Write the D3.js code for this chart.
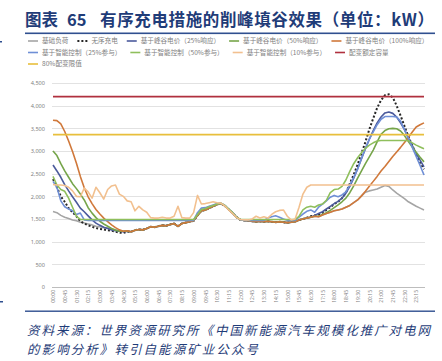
<!DOCTYPE html>
<html>
<head>
<meta charset="utf-8">
<script src="https://cdn.jsdelivr.net/npm/d3@7/dist/d3.min.js"></script>
<style>
body { margin: 0; background: #fff; }
svg { display: block; }
</style>
</head>
<body>
<div id="chart"></div>
<script>
// x tick labels (every 45 min), data is every 15 min (96 points)
var tickLabels = ["00:00","00:45","01:30","02:15","03:00","03:45","04:30","05:15","06:00","06:45",
    "07:30","08:15","09:00","09:45","10:30","11:15","12:00","12:45","13:30","14:15","15:00","15:45",
    "16:30","17:15","18:00","18:45","19:30","20:15","21:00","21:45","22:30","23:15"];
var yTicks = [0, 500, 1000, 1500, 2000, 2500, 3000, 3500, 4000, 4500];

var baseLoad = [1665,1640,1580,1540,1510,1480,1460,1430,1410,1390,
    1370,1340,1330,1310,1300,1280,1260,1240,1230,1240,
    1220,1250,1270,1260,1290,1330,1320,1340,1360,1350,
    1380,1400,1340,1400,1420,1440,1460,1580,1680,1700,
    1740,1780,1820,1840,1790,1710,1630,1540,1480,1470,
    1460,1450,1440,1450,1440,1450,1440,1430,1440,1430,
    1420,1430,1440,1480,1500,1520,1540,1560,1550,1590,
    1620,1650,1680,1700,1720,1760,1800,1860,1920,2010,
    2090,2120,2140,2160,2200,2240,2220,2140,2070,2010,
    1950,1880,1830,1780,1740,1700];
var disordered = [2380,2200,2000,1880,1740,1650,1560,1450,1400,1360,
    1330,1300,1280,1270,1250,1240,1220,1200,1190,1220,
    1220,1250,1270,1260,1290,1330,1320,1340,1360,1350,
    1380,1400,1340,1400,1420,1440,1460,1580,1680,1700,
    1740,1780,1820,1840,1790,1710,1630,1540,1480,1470,
    1460,1450,1440,1450,1440,1450,1440,1430,1440,1430,
    1420,1430,1460,1480,1500,1530,1560,1580,1600,1640,
    1700,1760,1830,1880,1960,2080,2280,2480,2700,2950,
    3200,3480,3720,3950,4120,4230,4250,4180,4000,3780,
    3550,3320,3120,2920,2750,2600];
var tou25 = [2690,2560,2420,2260,2120,1990,1870,1740,1660,1570,
    1480,1410,1360,1320,1290,1260,1240,1230,1220,1230,
    1220,1250,1270,1260,1290,1330,1320,1340,1360,1350,
    1380,1400,1340,1400,1420,1440,1460,1580,1680,1700,
    1740,1780,1820,1840,1790,1710,1630,1540,1480,1470,
    1460,1450,1440,1450,1440,1450,1440,1430,1440,1430,
    1420,1430,1440,1480,1500,1520,1540,1580,1620,1660,
    1720,1780,1840,1890,1960,2070,2220,2400,2610,2830,
    3050,3260,3450,3620,3750,3840,3860,3830,3750,3620,
    3470,3290,3120,2950,2800,2650];
var tou50 = [3000,2900,2720,2560,2420,2280,2170,2050,1920,1750,
    1630,1530,1450,1390,1340,1290,1250,1230,1230,1230,
    1220,1250,1270,1260,1290,1330,1320,1340,1360,1350,
    1380,1400,1340,1400,1420,1440,1460,1580,1680,1700,
    1740,1780,1820,1840,1790,1710,1630,1540,1480,1470,
    1460,1450,1440,1450,1440,1450,1440,1430,1440,1430,
    1420,1430,1440,1480,1500,1520,1540,1560,1560,1600,
    1640,1690,1750,1810,1880,1960,2080,2230,2400,2560,
    2720,2870,3020,3200,3370,3450,3490,3500,3490,3440,
    3340,3210,3090,2970,2860,2760];
var tou100 = [3680,3670,3600,3430,3220,2990,2730,2440,2190,1990,
    1840,1710,1610,1520,1440,1370,1310,1260,1230,1240,
    1220,1250,1270,1260,1290,1330,1320,1340,1360,1350,
    1380,1400,1340,1400,1420,1440,1460,1580,1680,1700,
    1740,1780,1820,1840,1790,1710,1630,1540,1480,1470,
    1460,1450,1440,1450,1440,1450,1440,1430,1440,1430,
    1420,1430,1440,1480,1500,1520,1540,1560,1550,1590,
    1620,1650,1680,1700,1720,1760,1800,1860,1920,2010,
    2110,2220,2330,2440,2560,2660,2770,2880,2980,3080,
    3190,3300,3420,3530,3580,3620];
var smart25 = [2330,2200,1900,1770,1720,1680,1600,1630,1480,1470,
    1470,1470,1470,1470,1470,1470,1470,1470,1470,1470,
    1470,1470,1470,1470,1470,1470,1470,1470,1470,1470,
    1470,1470,1470,1470,1470,1470,1470,1640,1740,1750,
    1780,1810,1840,1850,1800,1720,1640,1540,1480,1470,
    1470,1470,1470,1470,1470,1520,1550,1570,1540,1500,
    1470,1470,1470,1540,1610,1670,1700,1650,1760,1830,
    1900,1980,2020,1990,2030,2100,2250,2420,2600,2840,
    3060,3260,3420,3580,3700,3760,3760,3760,3750,3660,
    3470,3280,3080,2880,2680,2470];
var smart50 = [2440,2250,2150,2110,1960,1760,1560,1490,1490,1490,
    1490,1490,1490,1490,1490,1490,1490,1490,1490,1490,
    1490,1490,1490,1490,1490,1490,1490,1490,1490,1490,
    1490,1490,1490,1490,1490,1490,1490,1600,1710,1730,
    1770,1800,1830,1850,1800,1720,1640,1540,1490,1490,
    1490,1490,1490,1490,1490,1490,1490,1490,1490,1490,
    1490,1490,1490,1560,1700,1760,1780,1760,1810,1830,
    1910,2080,2150,2160,2220,2360,2550,2720,2850,2960,
    3060,3130,3180,3220,3230,3230,3230,3230,3230,3230,
    3230,3230,3180,3130,3090,3050];
var smart10 = [2260,2250,2250,2240,2200,2120,2000,1990,2180,2100,
    1960,2200,2080,1940,2150,2230,2250,2050,2000,1900,
    1880,1680,1780,1700,1650,1530,1520,1520,1540,1520,
    1520,1560,1780,1530,1520,1520,1640,2020,1830,1840,
    1860,1880,1860,1850,1790,1700,1620,1530,1490,1480,
    1480,1500,1560,1520,1550,1520,1600,1660,1690,1700,
    1560,1480,1500,1760,2050,2200,2250,2250,2250,2250,
    2250,2250,2250,2250,2250,2250,2250,2250,2250,2250,
    2250,2250,2250,2250,2250,2250,2250,2250,2250,2250,
    2250,2250,2250,2250,2250,2250];
var ratedCap = 4200;
var limit80 = 3360;

var seriesNames = ["基础负荷", "无序充电", "基于峰谷电价（25%响应）", "基于峰谷电价（50%响应）",
    "基于峰谷电价（100%响应）", "基于智能控制（25%参与）", "基于智能控制（50%参与）",
    "基于智能控制（10%参与）", "配变额定容量", "80%配变限值"];
var seriesColors = ["#a5a5a5", "#262626", "#4b5a9c", "#76a54a", "#d0783a",
    "#6f8fd6", "#8fbf5c", "#f2c08f", "#b0303e", "#e8bf3c"];
var seriesData = [baseLoad, disordered, tou25, tou50, tou100, smart25, smart50, smart10];

var times = d3.range(96).map(function(i) {
    var h = Math.floor(i / 4), m = (i % 4) * 15;
    return (h < 10 ? "0" : "") + h + ":" + (m < 10 ? "0" : "") + m;
});

var svg = d3.select("#chart").append("svg").attr("width", 442).attr("height", 361);
svg.append("rect").attr("width", 442).attr("height", 361).attr("fill", "#fff");

var blue = "#1f3c78";

// title
svg.append("text").attr("x", 25).attr("y", 26).attr("font-family", "Noto Sans CJK SC")
    .attr("font-weight", 700).attr("font-size", "16.5px").attr("fill", blue).text("图表");
svg.append("text").attr("x", 67).attr("y", 26).attr("font-family", "Noto Sans CJK SC")
    .attr("font-weight", 700).attr("font-size", "16.5px").attr("fill", blue).text("65");
svg.append("text").attr("x", 100).attr("y", 26).attr("font-family", "Noto Sans CJK SC")
    .attr("font-weight", 700).attr("font-size", "16.5px").attr("fill", blue)
    .attr("textLength", 334).attr("lengthAdjust", "spacing")
    .text("有序充电措施的削峰填谷效果（单位：kW）");
svg.append("rect").attr("x", 25).attr("y", 32.5).attr("width", 410).attr("height", 1.6).attr("fill", "#2f4f8f");
svg.append("rect").attr("x", 25).attr("y", 310.5).attr("width", 410).attr("height", 1.4).attr("fill", "#2f4f8f");
// little marks at left edge
svg.append("rect").attr("x", 0).attr("y", 41).attr("width", 2).attr("height", 1.5).attr("fill", "#2f4f8f");
svg.append("rect").attr("x", 0).attr("y", 301).attr("width", 3).attr("height", 1.5).attr("fill", "#2f4f8f");

// scales
var x = d3.scalePoint().domain(times).range([53, 424]);
var y = d3.scaleLinear().domain([0, 4500]).range([287, 83]);

// grid
svg.append("g").selectAll("line").data(yTicks).enter().append("line")
    .attr("x1", 52).attr("x2", 425)
    .attr("y1", function(d) { return Math.round(y(d)) + 0.5; })
    .attr("y2", function(d) { return Math.round(y(d)) + 0.5; })
    .attr("stroke", function(d) { return d == 0 ? "#bdbdbd" : "#e2e2e2"; })
    .attr("stroke-width", function(d) { return d == 0 ? 1.2 : 1; });

var yAxis = svg.append("g").attr("transform", "translate(52,0)")
    .call(d3.axisLeft(y).tickValues(yTicks).tickFormat(d3.format(",")).tickSize(0).tickPadding(7));
yAxis.select(".domain").remove();
yAxis.selectAll("text").attr("font-family", "Noto Sans").attr("font-size", "5.6px").attr("fill", "#7f7f7f");

var xAxis = svg.append("g").attr("transform", "translate(0,287)")
    .call(d3.axisBottom(x).tickValues(tickLabels).tickSize(0));
xAxis.select(".domain").remove();
xAxis.selectAll("text")
    .attr("transform", "rotate(-90)")
    .attr("x", -3).attr("y", 0).attr("dy", "0.35em")
    .style("text-anchor", "end")
    .attr("font-family", "Noto Sans").attr("font-size", "5px").attr("fill", "#7f7f7f");

// lines
var line = d3.line()
    .x(function(d, i) { return x(times[i]); })
    .y(function(d) { return y(d); });

seriesData.forEach(function(s, k) {
    var p = svg.append("path").datum(s)
        .attr("d", line)
        .attr("fill", "none")
        .attr("stroke", seriesColors[k])
        .attr("stroke-width", 1.6)
        .attr("stroke-linejoin", "round");
    if (k == 1) p.attr("stroke-width", 2).attr("stroke-dasharray", "2,2");
});

[ratedCap, limit80].forEach(function(v, k) {
    svg.append("line")
        .attr("x1", x(times[0])).attr("x2", x(times[95]))
        .attr("y1", y(v)).attr("y2", y(v))
        .attr("stroke", seriesColors[8 + k])
        .attr("stroke-width", 1.8);
});

// legend
var legendRows = [[0, 1, 2, 3, 4], [5, 6, 7, 8], [9]];
var rowY = [41, 52.5, 64];
legendRows.forEach(function(row, r) {
    var cx = 28;
    row.forEach(function(k) {
        var ln = svg.append("line")
            .attr("x1", cx).attr("x2", cx + 10)
            .attr("y1", rowY[r]).attr("y2", rowY[r])
            .attr("stroke", seriesColors[k]).attr("stroke-width", 1.6);
        if (k == 1) ln.attr("stroke-width", 2).attr("stroke-dasharray", "2,2");
        var t = svg.append("text")
            .attr("x", cx + 14).attr("y", rowY[r]).attr("dy", "0.35em")
            .attr("font-family", "Noto Sans CJK SC").attr("font-size", "6.6px")
            .attr("fill", "#808080")
            .text(seriesNames[k]);
        cx = cx + 14 + t.node().getComputedTextLength() + 9;
    });
});

// source
svg.append("text").attr("x", 27).attr("y", 335)
    .attr("font-family", "Noto Sans CJK SC").attr("font-size", "12.5px")
    .attr("font-style", "italic").attr("fill", blue)
    .attr("textLength", 403).attr("lengthAdjust", "spacing")
    .text("资料来源：世界资源研究所《中国新能源汽车规模化推广对电网");
svg.append("text").attr("x", 27).attr("y", 354)
    .attr("font-family", "Noto Sans CJK SC").attr("font-size", "12.5px")
    .attr("font-style", "italic").attr("fill", blue)
    .attr("textLength", 231).attr("lengthAdjust", "spacing")
    .text("的影响分析》转引自能源矿业公众号");
</script>
</body>
</html>
